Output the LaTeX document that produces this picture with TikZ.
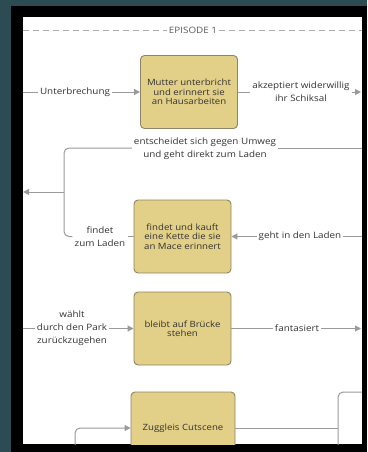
\documentclass[tikz,border=0pt]{standalone}
\usepackage{fontspec}
\setmainfont[FakeStretch=1.12]{Open Sans}
\usetikzlibrary{arrows.meta}
\definecolor{bgteal}{HTML}{2D4B52}
\definecolor{boxfill}{HTML}{E2CF88}
\definecolor{boxline}{HTML}{8F8466}
\definecolor{conn}{HTML}{9A9A9A}
\definecolor{txt}{HTML}{333333}
\definecolor{dashc}{HTML}{ABABAB}
\begin{document}
\begin{tikzpicture}[x=1pt,y=-1pt,
  stepbox/.style={draw=boxline, fill=boxfill, rounded corners=4pt, line width=0.9pt,
    minimum width=97pt, minimum height=73pt, align=center, text=txt, inner sep=0pt,
    font=\fontsize{8.6}{9.4}\selectfont},
  lbl/.style={align=center, text=txt, inner sep=2pt, font=\fontsize{8.8}{13}\selectfont},
  link/.style={draw=conn, line width=1pt},
  arr/.style={link, -{Triangle[length=6pt,width=6pt]}},
  dashline/.style={draw=dashc, line width=0.8pt, dash pattern=on 6pt off 4pt}]
\useasboundingbox (0,0) rectangle (367,452);
\fill[bgteal] (0,0) rectangle (367,452);
\fill[black] (11,6) rectangle (367,452);
\fill[white] (23,17) rectangle (362,444);
\begin{scope}
\clip (23,17) rectangle (362,444);
% episode header
\node[lbl, text=black!65] (ep) at (193,30) {EPISODE 1};
\coordinate (dl) at (23,30);
\coordinate (dr) at (362,30);
\draw[dashline] (dl) -- (ep.west);
\draw[dashline] (ep.east) -- (dr);
% boxes
\node[stepbox] (b1) at (189,92) {Mutter unterbricht\\und erinnert sie\\an Hausarbeiten};
\node[stepbox] (b2) at (182.5,236.5) {findet und kauft\\eine Kette die sie\\an Mace erinnert};
\node[stepbox] (b3) at (182.5,328.5) {bleibt auf Brücke\\stehen};
\node[stepbox, minimum width=104pt, minimum height=72pt] (b4) at (183,428) {Zuggleis Cutscene};
% labels
\node[lbl] (l1) at (75,92) {Unterbrechung};
\node[lbl] (l2) at (301,92) {akzeptiert widerwillig\\ihr Schiksal};
\node[lbl] (l3) at (205,148.5) {entscheidet sich gegen Umweg\\und geht direkt zum Laden};
\node[lbl] (l4) at (100,236.5) {findet\\zum Laden};
\node[lbl] (l5) at (300,236.5) {geht in den Laden};
\node[lbl] (l6) at (72,328.5) {wählt\\durch den Park\\zurückzugehen};
\node[lbl] (l7) at (297,328.5) {fantasiert};
\node[lbl, inner sep=1pt] (l8) at (75,451) {fantasiert};
\node[lbl, anchor=west] (l9) at (310,451) {nicht in Realität};
% edge coordinates
\coordinate (e1) at (23,92);
\coordinate (e2) at (362,92);
\coordinate (e3) at (362,148);
\coordinate (e4) at (23,192);
\coordinate (j) at (64,192);
\coordinate (e5) at (362,236.5);
\coordinate (e6) at (23,328.5);
\coordinate (e7) at (362,328.5);
\coordinate (e8) at (362,392);
\coordinate (k) at (338,428);
\coordinate (e9) at (338,460);
% connectors
\draw[link] (e1) -- (l1);
\draw[arr] (l1) -- (b1);
\draw[link] (b1) -- (l2);
\draw[arr, shorten >=1pt] (l2) -- (e2);
\draw[link] (e3) -- (l3.east |- e3);
\draw[link, rounded corners=5pt] (l3.west |- e3) -- (j |- e3) -- (j |- l4) -- (l4.west);
\draw[arr] (j) -- (e4);
\draw[link] (l4.east) -- (b2.west);
\draw[link] (e5) -- (l5);
\draw[arr] (l5) -- (b2);
\draw[link] (e6) -- (l6);
\draw[arr] (l6) -- (b3);
\draw[link] (b3) -- (l7);
\draw[arr, shorten >=1pt] (l7) -- (e7);
\draw[link] (b4) -- (k);
\draw[link, rounded corners=5pt] (e9) -- (k |- e8) -- (e8);
\draw[arr, rounded corners=5pt] (l8.north) -- (l8.north |- b4) -- (b4.west);
\end{scope}
\end{tikzpicture}
\end{document}
